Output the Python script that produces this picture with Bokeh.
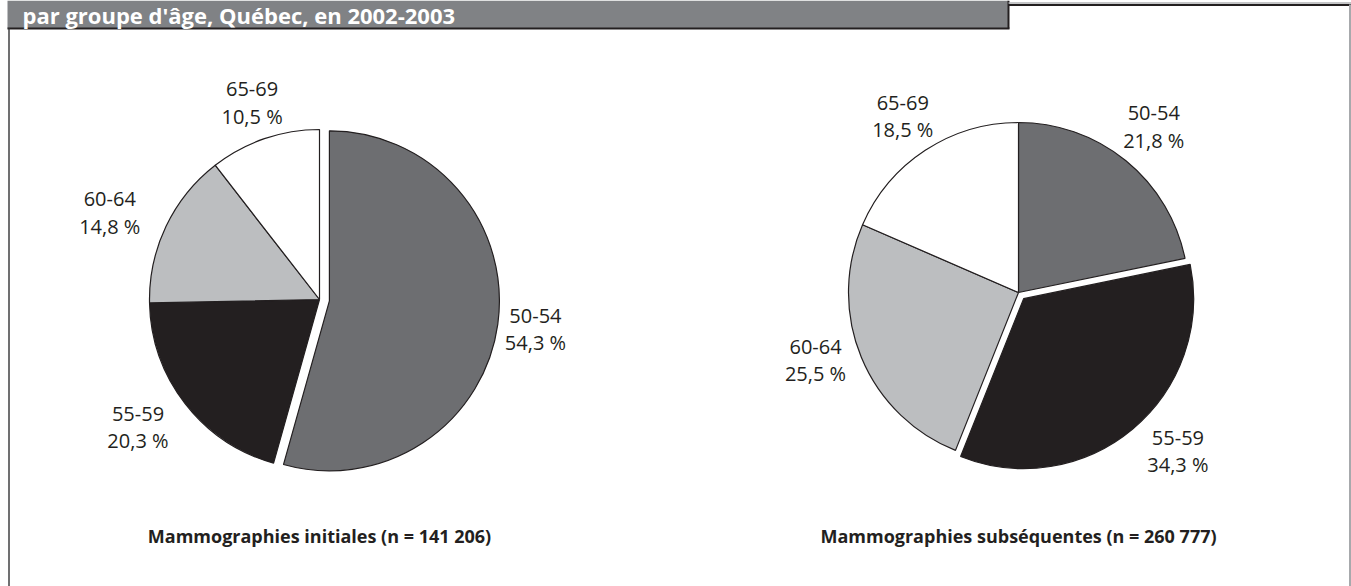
import math
from bokeh.plotting import figure
from bokeh.models import Range1d, ColumnDataSource
from bokeh.core.properties import value
from bokeh.embed import file_html
from bokeh.resources import INLINE

# ---- data ----
groups = ["50-54", "55-59", "60-64", "65-69"]
initiales = [54.3, 20.3, 14.8, 10.5]
subsequentes = [21.8, 34.3, 25.5, 18.5]
captions = ["Mammographies initiales (n = 141 206)",
            "Mammographies subséquentes (n = 260 777)"]
title_text = "par groupe d'âge, Québec, en 2002-2003"

# ---- style ----
colors = ["#6d6e71", "#231f20", "#bcbec0", "#ffffff"]
W, H = 1351, 586
FONT = "Open Sans"
R = 170
# label placement (distance from slice vertex, angular tweak in degrees)
label_r_left = [208, 222, 227, 208]
label_adj_left = [0, -2.6, 3.0, 0]
label_r_right = [214, 217, 214, 211]
label_adj_right = [0, 5.4, -3.9, 0]

p = figure(width=W, height=H, x_range=Range1d(0, W), y_range=Range1d(0, H),
           output_backend="svg", toolbar_location=None, min_border=0,
           margin=(0, 0, 0, 0))
p.axis.visible = False
p.grid.visible = False
p.outline_line_color = None
p.background_fill_color = "#ffffff"
p.border_fill_color = "#ffffff"

# frame / header
p.quad(left=[7], right=[1008], top=[H], bottom=[H - 28], fill_color="#808285", line_color=None)
p.segment(x0=[7, 1008, 1008], y0=[H - 28, H - 28, H - 4.5],
          x1=[1009, 1008, W], y1=[H - 28, H, H - 4.5],
          line_color="#231f20", line_width=2)
p.segment(x0=[1008], y0=[H - 2.5], x1=[W], y1=[H - 2.5], line_color="#b0b2b4", line_width=1.5)
p.segment(x0=[8.5], y0=[H - 28], x1=[8.5], y1=[0], line_color="#414042", line_width=1.5)
p.segment(x0=[1349.5], y0=[H - 4], x1=[1349.5], y1=[0], line_color="#a7a9ac", line_width=2)

p.text(x=[22], y=[H - 14], text=[title_text], text_color="#ffffff",
       text_font=value(FONT), text_font_size="22px", text_font_style="bold",
       text_align="left", text_baseline="alphabetic")


def fmt(v):
    return f"{v:.1f}".replace(".", ",") + " %"


def draw_pie(cx, cy_px, vals, explode_idx, explode, caption, lr, ladj):
    cy = H - cy_px
    total = sum(vals)
    xs, ys, a_s, a_e = [], [], [], []
    lx, ly = [], []
    cum = 0.0
    for i, v in enumerate(vals):
        a0 = math.pi / 2 - 2 * math.pi * cum / total
        a1 = math.pi / 2 - 2 * math.pi * (cum + v) / total
        mid = (a0 + a1) / 2
        off = explode if i == explode_idx else 0
        x = cx + off * math.cos(mid)
        y = cy + off * math.sin(mid)
        xs.append(x); ys.append(y); a_s.append(a1); a_e.append(a0)
        la = mid + math.radians(ladj[i])
        lx.append(x + lr[i] * math.cos(la))
        ly.append(y + lr[i] * math.sin(la))
        cum += v
    src = ColumnDataSource(dict(x=xs, y=ys, start=a_s, end=a_e, color=colors))
    p.wedge(x="x", y="y", radius=R, start_angle="start", end_angle="end",
            direction="anticlock", fill_color="color", line_color="#231f20",
            line_width=1.2, source=src)
    p.text(x=lx, y=[v + 13.5 for v in ly], text=groups, text_color="#231f20",
           text_font=value(FONT), text_font_size="20px",
           text_align="center", text_baseline="middle")
    p.text(x=lx, y=[v - 13.5 for v in ly], text=[fmt(v) for v in vals],
           text_color="#231f20", text_font=value(FONT), text_font_size="20px",
           text_align="center", text_baseline="middle")
    p.text(x=[cx], y=[H - 535], text=[caption], text_color="#231f20",
           text_font=value(FONT), text_font_size="18px", text_font_style="bold",
           text_align="center", text_baseline="middle")


draw_pie(319, 299, initiales, 0, 10, captions[0], label_r_left, label_adj_left)
draw_pie(1018, 292, subsequentes, 1, 8, captions[1], label_r_right, label_adj_right)

open("out.html", "w").write(file_html(p, INLINE))
